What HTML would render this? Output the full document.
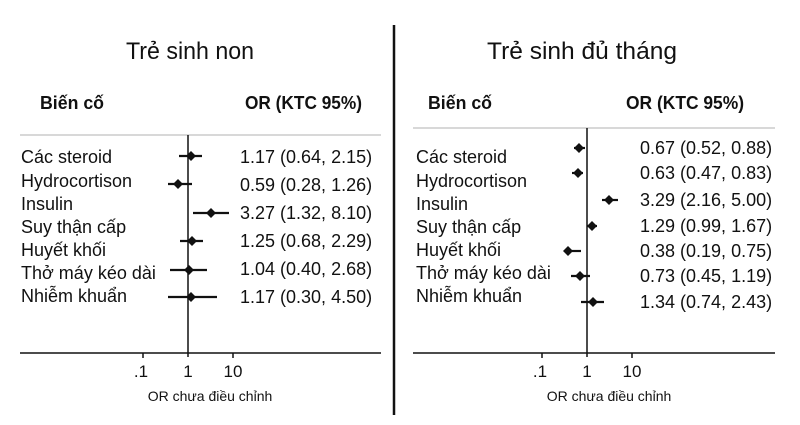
<!DOCTYPE html>
<html><head><meta charset="utf-8"><style>
html,body{margin:0;padding:0;background:#fff;width:800px;height:425px;overflow:hidden}
text{font-family:"Liberation Sans",sans-serif;fill:#111}
</style></head><body>
<svg width="800" height="425" viewBox="0 0 800 425" xmlns="http://www.w3.org/2000/svg">
<line x1="394" y1="25" x2="394" y2="415" stroke="#111" stroke-width="2.5"/>
<text x="190" y="59" font-size="24" text-anchor="middle" textLength="128" lengthAdjust="spacingAndGlyphs" fill="#222">Trẻ sinh non</text>
<text x="582" y="59" font-size="24" text-anchor="middle" textLength="190" lengthAdjust="spacingAndGlyphs" fill="#222">Trẻ sinh đủ tháng</text>
<text x="40" y="109" font-size="18" font-weight="bold" textLength="64" lengthAdjust="spacingAndGlyphs">Biến cố</text>
<text x="245" y="109" font-size="18" font-weight="bold" textLength="117" lengthAdjust="spacingAndGlyphs">OR (KTC 95%)</text>
<text x="428" y="109" font-size="18" font-weight="bold" textLength="64" lengthAdjust="spacingAndGlyphs">Biến cố</text>
<text x="626" y="109" font-size="18" font-weight="bold" textLength="118" lengthAdjust="spacingAndGlyphs">OR (KTC 95%)</text>

<g>
<line x1="20" y1="135" x2="381" y2="135" stroke="#ccc" stroke-width="1.5"/>
<line x1="20" y1="353" x2="381" y2="353" stroke="#111" stroke-width="1.5"/>
<line x1="188" y1="135" x2="188" y2="357" stroke="#111" stroke-width="1.5"/>
<line x1="143" y1="353" x2="143" y2="358" stroke="#111" stroke-width="1.5"/>
<line x1="233" y1="353" x2="233" y2="358" stroke="#111" stroke-width="1.5"/>
<g font-size="17" text-anchor="middle"><text x="141" y="377">.1</text><text x="188" y="377">1</text><text x="233" y="377">10</text></g>
<text x="210" y="401" font-size="14" text-anchor="middle">OR chưa điều chỉnh</text>
<g font-size="18">
<text x="21" y="163">Các steroid</text><text x="21" y="187">Hydrocortison</text><text x="21" y="210">Insulin</text><text x="21" y="233">Suy thận cấp</text><text x="21" y="256">Huyết khối</text><text x="21" y="279">Thở máy kéo dài</text><text x="21" y="302">Nhiễm khuẩn</text>
</g>
<g font-size="18">
<text x="240" y="163">1.17 (0.64, 2.15)</text><text x="240" y="191">0.59 (0.28, 1.26)</text><text x="240" y="219">3.27 (1.32, 8.10)</text><text x="240" y="247">1.25 (0.68, 2.29)</text><text x="240" y="275">1.04 (0.40, 2.68)</text><text x="240" y="303">1.17 (0.30, 4.50)</text>
</g>
<g stroke="#111" stroke-width="2.2">
<line x1="179" y1="156" x2="202" y2="156"/><line x1="168" y1="184" x2="192" y2="184"/><line x1="193" y1="213" x2="229" y2="213"/><line x1="180" y1="241" x2="203" y2="241"/><line x1="170" y1="270" x2="207" y2="270"/><line x1="168" y1="297" x2="217" y2="297"/>
</g>
<g fill="#111">
<polygon points="191,151 196,156 191,161 186,156"/><polygon points="178,179 183,184 178,189 173,184"/><polygon points="211,208 216,213 211,218 206,213"/><polygon points="192,236 197,241 192,246 187,241"/><polygon points="189,265 194,270 189,275 184,270"/><polygon points="191,292 196,297 191,302 186,297"/>
</g>
</g>

<g>
<line x1="413" y1="128" x2="775" y2="128" stroke="#ccc" stroke-width="1.5"/>
<line x1="413" y1="353" x2="775" y2="353" stroke="#111" stroke-width="1.5"/>
<line x1="587" y1="128" x2="587" y2="357" stroke="#111" stroke-width="1.5"/>
<line x1="542" y1="353" x2="542" y2="358" stroke="#111" stroke-width="1.5"/>
<line x1="632" y1="353" x2="632" y2="358" stroke="#111" stroke-width="1.5"/>
<g font-size="17" text-anchor="middle"><text x="540" y="377">.1</text><text x="587" y="377">1</text><text x="632" y="377">10</text></g>
<text x="609" y="401" font-size="14" text-anchor="middle">OR chưa điều chỉnh</text>
<g font-size="18">
<text x="416" y="163">Các steroid</text><text x="416" y="187">Hydrocortison</text><text x="416" y="210">Insulin</text><text x="416" y="233">Suy thận cấp</text><text x="416" y="256">Huyết khối</text><text x="416" y="279">Thở máy kéo dài</text><text x="416" y="302">Nhiễm khuẩn</text>
</g>
<g font-size="18">
<text x="640" y="154">0.67 (0.52, 0.88)</text><text x="640" y="179">0.63 (0.47, 0.83)</text><text x="640" y="206">3.29 (2.16, 5.00)</text><text x="640" y="232">1.29 (0.99, 1.67)</text><text x="640" y="257">0.38 (0.19, 0.75)</text><text x="640" y="282">0.73 (0.45, 1.19)</text><text x="640" y="308">1.34 (0.74, 2.43)</text>
</g>
<g stroke="#111" stroke-width="2.2">
<line x1="574" y1="148" x2="585" y2="148"/><line x1="572" y1="173" x2="583" y2="173"/><line x1="602" y1="200" x2="618" y2="200"/><line x1="587" y1="226" x2="597" y2="226"/><line x1="568" y1="251" x2="581" y2="251"/><line x1="571" y1="276" x2="590" y2="276"/><line x1="581" y1="302" x2="604" y2="302"/>
</g>
<g fill="#111">
<polygon points="579,143 584,148 579,153 574,148"/><polygon points="578,168 583,173 578,178 573,173"/><polygon points="609,195 614,200 609,205 604,200"/><polygon points="592,221 597,226 592,231 587,226"/><polygon points="568,246 573,251 568,256 563,251"/><polygon points="580,271 585,276 580,281 575,276"/><polygon points="593,297 598,302 593,307 588,302"/>
</g>
</g>
</svg>
</body></html>
